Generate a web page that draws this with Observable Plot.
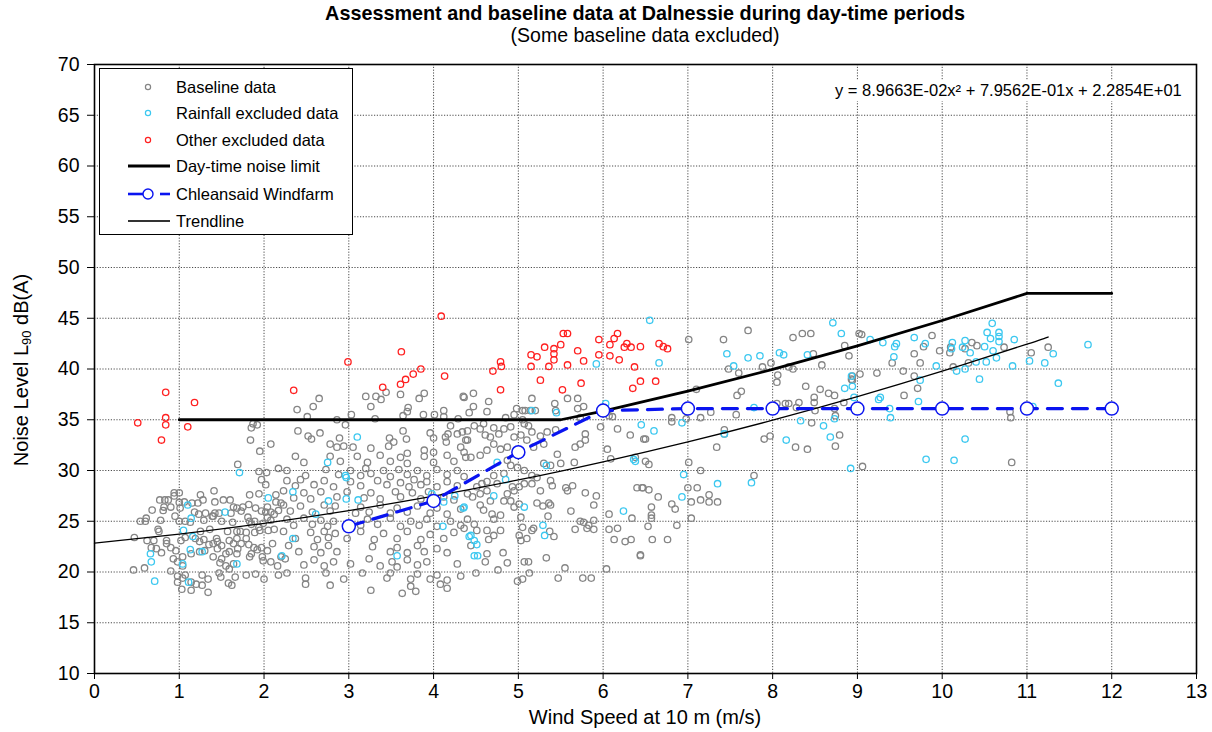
<!DOCTYPE html>
<html>
<head>
<meta charset="utf-8">
<script src="https://cdn.jsdelivr.net/npm/d3@7"></script>
<script src="https://cdn.jsdelivr.net/npm/@observablehq/plot@0.6"></script>
<style>
  html, body { margin: 0; padding: 0; background: #fff; }
  body { font-family: "Liberation Sans", Arial, sans-serif; color: #000; }
  #wrap { position: relative; width: 1212px; height: 732px; overflow: hidden; }
  #title { position: absolute; left: 0; width: 1290px; top: 2px; text-align: center; font-weight: bold; font-size: 19.8px; line-height: 23px; }
  #subtitle { position: absolute; left: 0; width: 1290px; top: 24px; text-align: center; font-size: 19.5px; line-height: 23px; }
  #chart { position: absolute; left: 0; top: 48px; }
  #xlabel { position: absolute; left: 0; width: 1290px; top: 706px; text-align: center; font-size: 20px; line-height: 23px; }
  #ylabel { position: absolute; left: 22px; top: 370px; transform: translate(-50%, -50%) rotate(-90deg); white-space: nowrap; font-size: 20px; }
  #ylabel sub { font-size: 13px; vertical-align: -3px; }
  #legend { position: absolute; left: 99px; top: 68px; width: 254px; height: 167px; border: 1px solid #000; background: #fff; box-sizing: border-box; }
  .lrow { position: absolute; left: 0; height: 20px; display: flex; align-items: center; font-size: 16.5px; }
  .lrow svg { width: 76px; height: 20px; display: block; }
  #eq { position: absolute; left: 832px; top: 80px; font-size: 16.5px; background: #fff; padding: 1px 3px; white-space: nowrap; }
</style>
</head>
<body>
<div id="wrap">
  <div id="title">Assessment and baseline data at Dalnessie during day-time periods</div>
  <div id="subtitle">(Some baseline data excluded)</div>
  <div id="chart"></div>
  <div id="xlabel">Wind Speed at 10 m (m/s)</div>
  <div id="ylabel">Noise Level L<sub>90</sub> dB(A)</div>
  <div id="legend"></div>
  <div id="eq">y = 8.9663E-02x² + 7.9562E-01x + 2.2854E+01</div>
</div>
<script>
// ---------- axis ticks ----------
const xTicks = [0,1,2,3,4,5,6,7,8,9,10,11,12,13];
const yTicks = [10,15,20,25,30,35,40,45,50,55,60,65,70];

// ---------- Chleansaid Windfarm predicted levels ----------
const windSpeeds = [3,4,5,6,7,8,9,10,11,12];
const windfarmLevels = [24.5,27.0,31.8,35.9,36.1,36.1,36.1,36.1,36.1,36.1];

// ---------- Day-time noise limit ----------
const limitSpeeds = [1,5.5,6,7,8,9,10,11,12];
const limitLevels = [35,35,35.86,37.82,39.96,42.28,44.78,47.45,47.45];

// ---------- Trendline ----------
const trendSpeeds = [0,1,2,3,4,5,6,7,8,9,10,11,11.25];
const trendLevels = [22.85,23.74,24.80,26.05,27.47,29.07,30.86,32.82,34.96,37.28,39.78,42.45,43.15];

// ---------- Other excluded data (red) ----------
const otherData = [
[0.84,37.7],[1.18,36.7],[0.84,35.2],[0.51,34.7],[0.84,34.5],[1.10,34.3],[0.79,33.0],
[2.35,37.9],[2.99,40.7],[3.4,38.2],[3.62,41.7],[3.61,38.5],[3.67,38.97],[3.76,39.5],[3.85,40.0],[4.09,45.2],[4.13,39.3],
[4.7,39.8],[4.79,40.7],[4.8,40.25],[4.79,37.95],[5.15,41.4],[5.22,41.2],[5.15,40.25],[5.26,38.9],[5.31,42.15],[5.36,40.25],
[5.42,42.0],[5.42,41.5],[5.42,40.9],[5.5,42.4],[5.52,37.95],[5.53,43.5],[5.58,43.5],[5.58,40.4],[5.7,41.8],[5.74,38.6],[5.77,40.8],
[5.95,42.9],[5.95,41.4],[6.08,42.4],[6.08,41.3],[6.13,43.0],[6.17,43.5],[6.19,40.9],[6.25,42.15],[6.28,42.5],[6.33,42.15],
[6.37,40.2],[6.44,42.2],[6.44,38.8],[6.35,38.1],[6.66,42.5],[6.71,42.2],[6.76,42.0],[6.62,38.8]
];

// ---------- Rainfall excluded data (cyan) ----------
const rainData = [
[1.71,29.8],[2.05,27.3],[1.1,26.6],[1.54,25.9],[1.14,25.3],[1.05,24.1],[1.16,23.5],[0.66,21.8],[0.67,21.0],[1.13,22.2],[1.27,22.0],
[1.04,20.8],[1.68,20.8],[2.21,21.6],[0.71,19.1],[1.11,19.0],
[3.1,33.3],
[2.75,30.8],[2.96,29.5],[2.97,29.3],[2.34,27.9],[2.76,27.0],[2.97,27.2],[3.11,27.1],[2.61,25.7],[2.34,23.3],[3.57,21.6],
[3.98,27.7],[4.12,26.9],[4.25,27.5],[4.35,26.3],[4.11,24.5],[4.42,23.5],
[5.92,40.5],[6.03,36.6],[5.45,35.7],[5.16,35.9],[6.45,34.5],[6.55,44.8],[6.36,31.1],
[4.75,30.8],[4.85,29.1],[4.71,27.5],[5.07,26.4],[4.36,26.4],[5.29,24.6],[5.31,23.6],[4.44,23.6],[4.48,23.1],[4.51,22.7],
[4.48,21.6],[4.52,21.6],[5.33,30.5],[6.24,26.0],[6.38,30.9],
[6.66,40.6],[7.46,41.5],[7.54,40.3],[7.71,41.1],[7.85,41.3],[8.08,41.6],[8.13,41.4],[8.41,41.4],[7.78,36.2],[6.93,34.7],
[6.6,33.9],[7.43,33.6],[8.33,34.9],[8.6,34.4],[8.73,35.1],[8.68,33.3],[8.16,33.0],[8.71,44.55],[8.81,43.5],[8.85,38.1],
[8.94,38.3],[8.93,39.3],[8.96,37.2],
[6.95,29.6],[6.93,27.4],[7.35,28.7],[7.75,28.8],[8.92,30.2],
[9.15,42.9],[9.3,42.6],[9.44,42.2],[9.46,42.5],[9.67,43.1],[9.8,42.5],[9.43,41.2],[9.25,37.0],[9.27,37.2],[9.72,36.8],
[9.74,38.9],[9.93,40.3],[10.12,42.6],[10.11,42.0],[10.24,42.15],[10.27,42.8],[10.33,41.6],[10.17,39.8],[10.27,40.0],[10.4,40.7],
[10.44,39.0],[10.5,42.2],[10.52,40.7],[10.53,43.6],[10.59,44.5],[10.57,43.0],[10.67,43.6],[10.67,43.2],[10.67,42.7],[10.6,41.8],
[10.64,41.1],[10.85,42.9],[10.83,40.3],[11.03,40.8],[11.21,40.6],[11.31,41.5],[11.37,38.6],[11.72,42.4],[9.38,36.1],[9.39,35.2],
[10.27,33.1],[10.14,31.0],[11.07,36.3],[9.81,31.1]
];

// ---------- Baseline data (grey) ----------
const baselineData = [
[1.87,34.6],[1.92,34.5],[1.85,34.2],[1.84,33.0],[1.95,31.9],[2.08,32.6],
[1.69,30.6],[1.94,29.9],[2.03,29.8],[2.17,30.2],[1.97,29.1],[2.02,28.6],[1.94,27.7],[1.83,27.6],[0.94,27.8],[1.0,27.8],
[0.94,27.5],[1.25,27.6],[1.28,27.1],[1.15,26.8],[1.41,28.0],[0.77,27.1],[0.83,27.1],[0.87,27.1],[1.0,26.85],[1.06,26.9],
[1.22,26.8],[1.42,26.9],[1.52,27.1],[1.6,27.1],[1.82,26.65],[2.04,26.4],[2.14,27.6],[2.14,26.9],[2.2,26.8],[2.17,26.06],
[0.68,26.1],[0.82,26.4],[0.81,26.06],[0.9,26.4],[1.01,26.3],[1.18,25.9],[1.23,25.7],[1.31,25.8],[1.39,25.5],[1.42,25.8],
[1.47,25.8],[1.64,26.4],[1.68,26.3],[1.73,26.0],[1.61,25.8],[1.75,26.4],[1.9,26.3],[1.97,26.0],[2.02,25.9],[2.08,25.9],
[2.12,25.7],[2.04,25.4],[0.54,25.0],[0.61,25.3],[0.6,25.0],[0.78,25.1],[0.95,25.5],[1.0,25.0],[1.07,25.0],[1.13,24.9],
[1.29,25.1],[1.4,25.5],[1.5,25.0],[1.63,24.9],[1.81,25.4],[1.83,25.0],[1.85,24.7],[1.89,25.0],[1.94,24.4],[1.99,24.8],
[2.08,25.1],[0.75,24.2],[0.76,24.0],[1.36,24.2],[1.25,24.0],[1.57,24.0],[1.68,24.0],[1.72,24.0],[1.79,23.9],[1.89,23.9],
[1.95,24.1],[2.05,24.1],[2.12,24.2],[0.47,23.4],[0.62,23.1],[0.7,23.1],[0.85,23.1],[0.85,22.8],[1.02,23.1],[1.07,23.4],
[1.19,23.3],[1.24,23.0],[1.29,23.2],[1.35,22.7],[1.4,22.8],[1.44,23.3],[1.45,23.0],[1.5,22.6],[1.59,23.1],[1.64,22.8],
[1.68,23.3],[1.73,22.8],[1.79,23.3],[1.82,22.7],[1.88,22.4],[1.97,22.4],[2.04,22.1],[2.1,22.8],[0.67,22.4],[0.73,22.3],
[0.79,21.9],[0.9,22.4],[0.96,22.1],[1.04,21.5],[1.14,21.8],[1.24,22.0],[1.3,22.1],[1.4,21.5],[1.45,22.3],[1.5,21.3],
[1.55,21.8],[1.59,22.0],[1.69,22.3],[1.68,21.8],[1.83,21.5],[1.85,21.8],[1.92,22.2],[1.98,21.5],[1.99,21.1],[2.08,21.0],
[2.16,20.6],[2.2,21.5],[0.93,21.3],[0.98,21.0],[1.04,20.6],[1.48,20.9],[1.55,20.6],[1.59,20.3],[1.64,20.8],[0.46,20.2],
[0.59,20.4],[0.9,20.1],[0.98,19.6],[1.04,19.4],[1.07,19.7],[1.14,19.0],[1.2,18.8],[1.27,19.7],[1.34,19.3],[1.27,18.7],
[1.47,19.9],[1.49,19.5],[1.58,18.9],[1.62,18.7],[1.66,19.5],[1.79,19.7],[1.9,19.8],[2.0,19.3],[2.17,19.7],[0.98,19.0],
[1.03,18.3],[1.14,18.2],[1.34,18.0],
[2.39,36.0],[2.58,36.3],[2.65,37.1],[2.51,35.3],[2.4,33.9],[2.52,33.4],[2.56,33.1],[2.66,33.7],[2.78,32.6],[2.89,33.2],
[2.96,34.5],[3.03,35.5],[2.86,35.0],[2.86,32.3],[2.94,32.4],[3.05,32.3],[3.2,37.3],[3.26,36.3],[3.32,37.3],[3.38,37.0],
[3.44,37.7],[3.31,35.1],[3.61,37.5],[3.7,36.2],[3.69,35.8],[3.64,35.4],[3.83,37.1],[3.89,37.6],[3.88,35.5],[3.64,33.9],
[3.68,33.1],[3.48,33.2],[3.53,32.8],[3.47,32.4],[3.26,32.2],[3.69,31.7],[3.89,32.0],[4.0,31.8],[3.96,33.7],[4.0,33.2],
[4.01,35.5],[4.12,35.9],[4.12,35.3],[4.29,35.1],[4.35,37.3],[4.42,35.7],[4.2,34.4],[4.17,33.6],[4.15,32.8],[4.14,33.3],
[4.28,33.6],[4.34,33.8],[4.38,33.0],[4.32,32.3],
[2.37,31.4],[2.47,30.8],[2.78,31.4],[2.9,30.9],[3.1,31.4],[3.22,30.8],[3.37,31.5],[3.49,30.9],[3.61,31.3],[3.69,30.7],
[3.89,31.4],[4.0,30.8],[4.16,31.5],[4.24,30.9],[4.38,31.3],
[2.27,30.0],[2.49,29.5],[2.73,30.1],[2.88,29.6],[3.02,30.0],[3.14,29.5],[3.2,30.2],[3.26,29.7],[3.41,30.0],[3.49,29.4],
[3.59,30.1],[3.69,29.6],[3.81,30.0],[3.92,29.5],[4.04,30.1],[4.16,29.6],[4.28,30.0],[4.36,29.4],
[2.27,29.0],[2.37,28.5],[2.43,29.1],[2.59,28.6],[2.71,29.0],[2.82,28.4],[3.02,28.9],[3.14,28.5],[3.34,29.0],[3.45,28.6],
[3.61,28.8],[3.71,28.4],[3.77,29.1],[3.85,28.6],[3.92,28.9],[4.04,28.4],[4.16,28.9],[4.28,28.5],
[2.23,28.0],[2.35,27.3],[2.47,27.8],[2.55,27.2],[2.67,27.9],[2.86,27.4],[2.98,27.9],[3.18,27.3],[3.26,27.8],[3.37,27.2],
[3.55,27.9],[3.61,27.4],[3.75,27.8],[3.85,27.2],[3.94,27.9],[4.12,27.4],[4.24,27.1],
[2.23,26.6],[2.31,26.0],[2.43,26.5],[2.57,25.9],[2.71,26.6],[2.78,26.0],[2.84,26.5],[3.08,25.8],[3.14,26.4],[3.24,25.9],
[3.37,26.6],[3.49,25.8],[3.57,26.3],[3.69,25.9],[3.81,26.5],[3.96,25.8],[4.04,26.3],[4.16,25.7],[4.32,26.2],
[2.27,25.2],[2.35,24.6],[2.47,25.3],[2.57,24.7],[2.67,25.1],[2.75,24.5],[2.82,25.0],[3.14,24.6],[3.22,25.2],[3.34,24.7],
[3.49,25.3],[3.61,24.5],[3.73,25.0],[3.83,24.6],[3.92,25.2],[4.04,24.5],[4.2,25.0],[4.32,24.6],[4.4,25.2],
[2.23,24.0],[2.37,23.3],[2.55,23.9],[2.63,23.2],[2.71,24.0],[2.76,23.4],[2.84,23.8],[2.98,23.3],[3.14,24.0],[3.3,23.2],
[3.41,23.8],[3.57,23.3],[3.69,24.0],[3.85,23.2],[3.96,23.7],[4.12,23.3],[4.24,23.9],
[2.29,22.6],[2.41,22.0],[2.59,22.5],[2.67,21.9],[2.76,22.6],[2.86,22.0],[3.28,22.5],[3.49,22.0],[3.57,22.4],[3.69,21.9],
[3.81,22.6],[3.89,22.0],[4.04,22.3],[4.16,21.9],
[2.25,21.3],[2.47,20.7],[2.59,21.2],[2.71,20.6],[2.82,21.0],[3.02,20.8],[3.24,21.3],[3.37,20.6],[3.51,21.0],[3.57,20.5],
[3.69,21.2],[3.81,20.7],[3.92,21.0],[4.28,20.8],
[2.27,19.9],[2.49,19.4],[2.73,19.9],[2.94,19.3],[3.16,19.9],[3.45,19.4],[3.49,19.9],[3.73,19.3],[3.81,19.8],[3.96,19.3],
[4.04,19.7],[4.16,19.2],[4.32,19.6],
[2.49,18.8],[2.78,18.7],[3.26,18.2],[3.73,18.6],[3.79,18.1],[4.08,18.8],[4.16,18.4],[3.63,17.9],
[4.36,37.2],[4.47,37.6],[4.47,36.3],[4.65,36.8],[4.63,35.8],[4.4,33.9],[4.48,34.4],[4.55,34.1],[4.59,34.6],[4.71,34.2],
[4.61,33.5],[4.67,33.3],[4.77,33.6],[4.83,34.1],[4.91,34.3],[4.85,35.2],[4.95,35.5],[4.98,36.1],[5.05,35.9],[5.08,35.9],
[5.14,35.9],[5.2,35.9],[5.16,37.1],[5.05,35.0],[5.07,34.6],[5.12,34.4],[5.16,33.8],[5.26,33.4],[5.34,33.8],[5.44,34.0],
[5.43,36.6],[5.44,35.9],[5.58,37.1],[5.7,37.1],[5.7,36.1],[5.77,36.3],[5.73,35.2],[5.79,33.6],[5.97,34.3],[6.07,35.4],
[6.11,35.3],[6.17,34.1],[6.05,32.1],[6.32,33.5],[6.48,33.1],[4.71,32.6],[4.79,32.1],[4.63,32.0],[4.55,31.5],[4.4,33.0],
[4.36,31.8],[4.44,31.3],[4.87,32.3],[4.95,33.3],[5.03,33.5],[5.1,33.0],[5.18,32.3],[5.3,32.6],[5.46,31.6],[5.67,32.3],
[5.73,32.6],[5.79,33.0],[6.09,31.15],[6.38,31.3],
[5.3,30.7],[5.38,30.5],[5.5,30.7],[5.66,30.8],[5.16,28.7],[5.26,28.0],[5.38,29.0],[5.4,28.5],[5.56,28.3],[5.58,28.0],
[5.64,28.5],[5.79,27.8],[5.92,27.5],[5.38,26.6],[5.22,26.8],[5.29,26.5],[5.36,26.8],[5.62,26.0],[5.35,25.5],[5.89,26.6],
[5.73,25.0],[5.77,24.9],[5.67,24.2],[5.81,24.3],[5.89,24.2],[5.89,25.1],[5.83,24.6],[5.37,24.0],[5.42,23.5],[6.07,24.2],
[6.17,24.3],[6.07,25.7],[6.13,23.2],[6.26,23.0],[6.33,23.2],[6.34,25.3],[6.4,28.3],[6.46,28.3],[6.44,21.6],[6.04,20.3],
[5.86,19.4],[5.76,19.4],[5.47,19.4],[5.55,20.4],[5.33,21.4],[5.13,19.9],[5.07,21.0],[5.12,21.0],[5.05,19.3],[4.99,19.1],
[4.87,20.9],[4.82,21.9],[4.76,20.2],[4.63,21.8],[4.61,21.0],[4.5,19.9],[4.79,24.1],[4.71,23.6],[4.65,23.2],[4.63,24.1],
[4.51,24.1],[4.48,24.7],[4.36,24.3],[4.44,22.6],[4.79,25.6],[4.95,26.4],[5.01,26.7],[5.03,25.4],[5.05,24.4],[5.01,23.6],
[5.03,23.1],[5.16,24.1],[5.18,24.3],[5.1,23.3],[4.71,25.2],[4.69,25.7],[4.59,26.1],[4.55,26.6],[4.67,27.0],[4.83,27.0],
[4.91,27.0],[4.87,27.7],[4.95,28.0],[4.93,28.4],[5.01,28.4],[5.07,28.7],[4.75,28.7],[4.63,28.0],[4.55,27.7],[4.46,27.4],
[4.4,27.7],[4.51,28.4],[4.57,28.7],[4.63,28.9],[4.71,29.5],[4.83,29.7],[4.91,30.5],[4.87,31.0],[4.99,30.3],[5.07,30.0],
[5.16,29.5],[5.22,29.3],
[7.01,42.9],[7.42,42.9],[7.71,43.8],[7.48,40.0],[7.6,39.6],[7.1,38.0],[7.58,37.4],[7.63,37.8],[7.27,35.75],[7.15,35.2],
[7.57,35.5],[6.81,35.2],[6.81,34.8],[6.98,35.1],[7.43,34.0],[7.43,33.6],[7.34,32.3],[6.5,33.1],[7.88,40.2],[7.98,40.6],
[8.06,39.4],[8.05,38.7],[8.19,40.2],[8.24,40.0],[8.24,43.1],[8.35,43.5],[8.45,43.5],[8.48,41.5],[8.58,40.4],[8.39,38.3],
[8.56,38.0],[8.66,37.6],[8.73,37.4],[8.49,37.2],[8.49,36.7],[8.05,36.6],[8.15,36.6],[8.19,36.6],[8.31,36.7],[8.28,36.2],
[8.5,35.9],[8.73,36.1],[8.74,35.4],[8.46,34.7],[8.79,33.5],[8.74,32.4],[8.27,32.3],[8.41,32.1],[7.97,33.4],[7.9,33.1],
[8.85,42.3],[8.9,41.3],[8.93,39.0],[9.02,43.5],[8.84,36.7],
[6.5,30.9],[6.54,30.6],[7.01,30.8],[7.15,30.0],[7.78,29.5],[6.47,28.3],[6.54,28.1],[6.65,27.4],[7.0,28.3],[7.11,28.3],
[7.25,27.6],[7.15,27.1],[7.04,26.9],[7.25,26.9],[7.35,26.9],[6.81,26.7],[6.85,26.2],[6.57,26.4],[6.57,25.6],[6.57,25.3],
[7.04,25.3],[6.53,24.5],[6.87,24.6],[6.58,23.2],[6.76,23.2],[6.44,21.7],
[9.05,43.4],[9.03,39.5],[8.94,39.3],[8.94,38.9],[9.41,40.6],[9.23,39.6],[9.54,39.8],[9.55,37.4],[9.67,39.3],[9.67,41.5],
[9.74,40.6],[9.78,42.2],[9.88,43.3],[9.71,38.1],[9.97,41.8],[10.09,41.6],[10.1,42.15],[10.13,40.2],[10.27,42.0],[10.35,42.6],
[10.41,42.3],[10.31,40.6],[10.73,42.15],[10.8,35.8],[10.81,35.2],[11.05,41.6],[11.25,42.15],[10.82,30.8],[9.06,30.4]
];

const wf = windSpeeds.map((s, i) => ({x: s, y: windfarmLevels[i]}));
const lim = limitSpeeds.map((s, i) => ({x: s, y: limitLevels[i]}));
const tr = trendSpeeds.map((s, i) => ({x: s, y: trendLevels[i]}));

const GREY = "#858585", CYAN = "#3cc8f0", RED = "#ff2020", BLUE = "#0a14f0";
const dotOpts = (c) => ({x: d => d[0], y: d => d[1], r: 3.2, stroke: c, strokeWidth: 1.3, fill: "none"});

const chart = Plot.plot({
  width: 1212,
  height: 684,
  marginTop: 16,
  marginLeft: 94,
  marginRight: 16,
  marginBottom: 59,
  style: {fontFamily: "'Liberation Sans', Arial, sans-serif", fontSize: "19.5px", color: "#000", background: "transparent"},
  x: {domain: [0, 13]},
  y: {domain: [10, 70]},
  marks: [
    Plot.gridX(xTicks, {stroke: "#222", strokeOpacity: 0.9, strokeDasharray: "1.2,1.6", strokeWidth: 0.9}),
    Plot.gridY(yTicks, {stroke: "#222", strokeOpacity: 0.9, strokeDasharray: "1.2,1.6", strokeWidth: 0.9}),
    Plot.axisX(xTicks, {tickSize: 6, tickPadding: 5, label: null, fontSize: 19.5, tickFormat: d => String(d)}),
    Plot.axisY(yTicks, {tickSize: 7, tickPadding: 8, label: null, fontSize: 19.5, tickFormat: d => String(d)}),
    Plot.dot(baselineData, dotOpts(GREY)),
    Plot.dot(rainData, dotOpts(CYAN)),
    Plot.dot(otherData, dotOpts(RED)),
    Plot.line(tr, {x: "x", y: "y", stroke: "#000", strokeWidth: 1.3, curve: "natural"}),
    Plot.line(lim, {x: "x", y: "y", stroke: "#000", strokeWidth: 2.8}),
    Plot.line(wf, {x: "x", y: "y", stroke: BLUE, strokeWidth: 3.2, strokeDasharray: "15,10"}),
    Plot.dot(wf, {x: "x", y: "y", r: 6.5, fill: "#fff", stroke: BLUE, strokeWidth: 1.5}),
    Plot.frame({stroke: "#000", strokeWidth: 1.6})
  ]
});
document.getElementById("chart").appendChild(chart);

// ---------- legend (HTML overlay inside the plot area) ----------
const legendItems = [
  {label: "Baseline data", kind: "dot", color: GREY},
  {label: "Rainfall excluded data", kind: "dot", color: CYAN},
  {label: "Other excluded data", kind: "dot", color: RED},
  {label: "Day-time noise limit", kind: "line", color: "#000", w: 2.8},
  {label: "Chleansaid Windfarm", kind: "wf", color: BLUE},
  {label: "Trendline", kind: "line", color: "#333", w: 2}
];
const rowTops = [8, 34, 61, 87, 115, 142];
const leg = document.getElementById("legend");
legendItems.forEach((it, i) => {
  const row = document.createElement("div");
  row.className = "lrow";
  row.style.top = rowTops[i] + "px";
  let sw = "";
  if (it.kind === "dot") sw = `<circle cx="48" cy="10" r="2.6" fill="none" stroke="${it.color}" stroke-width="1.2"/>`;
  else if (it.kind === "line") sw = `<line x1="28" x2="70" y1="10" y2="10" stroke="${it.color}" stroke-width="${it.w}"/>`;
  else sw = `<line x1="28" x2="48" y1="10" y2="10" stroke="${it.color}" stroke-width="2.6"/><line x1="60" x2="70" y1="10" y2="10" stroke="${it.color}" stroke-width="2.6"/><circle cx="48" cy="10" r="5" fill="#fff" stroke="${it.color}" stroke-width="1.4"/>`;
  row.innerHTML = `<svg viewBox="0 0 76 20">${sw}</svg><span>${it.label}</span>`;
  leg.appendChild(row);
});
</script>
</body>
</html>
